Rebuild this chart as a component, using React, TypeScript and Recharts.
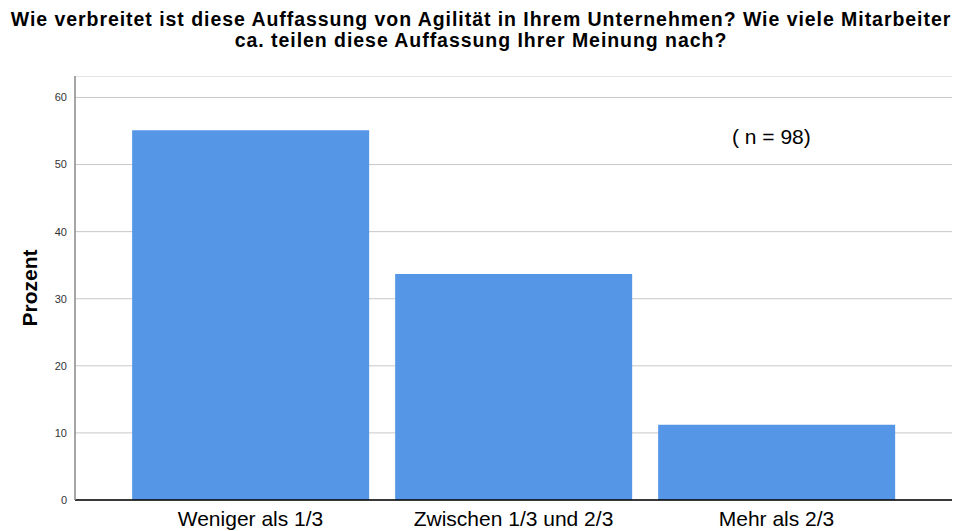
import { Bar, BarChart, CartesianGrid, XAxis, YAxis } from 'recharts'

const categories = ['Weniger als 1/3', 'Zwischen 1/3 und 2/3', 'Mehr als 2/3']
const percents = [55.1, 33.7, 11.2]
const yTicks = [0, 10, 20, 30, 40, 50, 60]

const data = categories.map((name, i) => ({ name, value: percents[i] }))

const FONT = '"Liberation Sans", Arial, sans-serif'

export default function App() {
  return (
    <div
      style={{
        position: 'absolute',
        left: 0,
        top: 0,
        width: 957,
        height: 531,
        background: '#fff',
        fontFamily: FONT,
      }}
    >
      <div
        style={{
          position: 'absolute',
          left: 0,
          top: 9,
          width: 962,
          textAlign: 'center',
          fontWeight: 'bold',
          fontSize: 19.5,
          letterSpacing: 0.95,
          lineHeight: '21px',
          color: '#000',
          whiteSpace: 'nowrap',
        }}
      >
        Wie verbreitet ist diese Auffassung von Agilität in Ihrem Unternehmen? Wie viele Mitarbeiter
        <br />
        ca. teilen diese Auffassung Ihrer Meinung nach?
      </div>
      <div
        style={{
          position: 'absolute',
          left: 732,
          top: 125,
          fontSize: 21,
          lineHeight: '24px',
          color: '#000',
        }}
      >
        ( n = 98)
      </div>
      <div style={{ position: 'absolute', left: 0, top: 76 }}>
        <BarChart
          width={952}
          height={455}
          data={data}
          margin={{ top: 0, right: 0, bottom: 0, left: 0 }}
          barCategoryGap="5%"
        >
          <CartesianGrid vertical={false} stroke="#c8c8c8" strokeWidth={1} />
          <XAxis
            dataKey="name"
            height={31}
            padding={{ left: 44, right: 44 }}
            tickLine={false}
            tickSize={0}
            tickMargin={11}
            axisLine={{ stroke: '#000', strokeWidth: 1.5 }}
            tick={{ fill: '#000', fontSize: 21, fontFamily: FONT }}
          />
          <YAxis
            width={75}
            domain={[0, 63.2]}
            ticks={yTicks}
            tickLine={false}
            tickSize={0}
            tickMargin={8}
            axisLine={{ stroke: '#888', strokeWidth: 1.5 }}
            tick={{ fill: '#333', fontSize: 11, fontFamily: FONT }}
            label={{
              value: 'Prozent',
              angle: -90,
              position: 'insideLeft',
              offset: 30,
              style: {
                fontWeight: 'bold',
                fontSize: 21,
                fill: '#000',
                fontFamily: FONT,
                textAnchor: 'middle',
              },
            }}
          />
          <Bar dataKey="value" fill="#5596e6" isAnimationActive={false} />
        </BarChart>
      </div>
    </div>
  )
}
